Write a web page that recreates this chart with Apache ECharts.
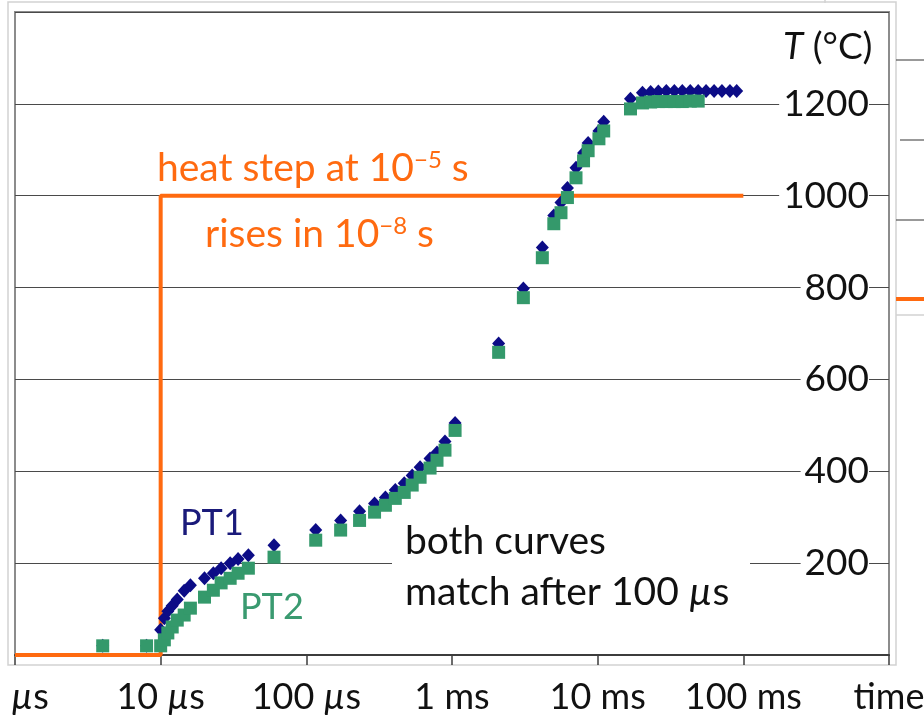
<!DOCTYPE html>
<html>
<head>
<meta charset="utf-8">
<script src="https://cdn.jsdelivr.net/npm/echarts@6/dist/echarts.min.js"></script>
<style>
html, body { margin: 0; padding: 0; background: #fff; }
#chart { width: 924px; height: 724px; }
</style>
</head>
<body>
<div id="chart"></div>
<script>
// sample times (s) shared by both thermocouples
const times = [4.0e-6, 8.0e-6, 1.0e-5, 1.06e-5, 1.12e-5, 1.2e-5, 1.3e-5, 1.45e-5, 1.6e-5, 2.0e-5,
  2.3e-5, 2.6e-5, 3.0e-5, 3.4e-5, 4.0e-5, 6.0e-5, 1.16e-4, 1.72e-4, 2.32e-4, 2.94e-4,
  3.49e-4, 4.08e-4, 4.70e-4, 5.33e-4, 6.04e-4, 7.07e-4, 7.89e-4, 8.95e-4, 1.05e-3, 2.09e-3,
  3.09e-3, 4.17e-3, 5.0e-3, 5.6e-3, 6.2e-3, 7.1e-3, 8.0e-3, 8.6e-3, 1.02e-2, 1.1e-2,
  1.68e-2, 2.03e-2, 2.31e-2, 2.61e-2, 2.96e-2, 3.36e-2, 3.81e-2, 4.32e-2, 4.90e-2, 5.55e-2,
  6.30e-2, 7.13e-2, 8.09e-2, 9.0e-2];
const pt1 = [20, 20, 55, 80, 95, 107, 121, 140, 152, 167,
  178, 189, 200, 209, 217, 239, 272, 293, 313, 330,
  343, 359, 374, 391, 409, 428, 441, 465, 505, 678,
  798, 887, 957, 985, 1017, 1061, 1093, 1115, 1141, 1161,
  1211, 1224, 1226, 1227, 1228, 1228, 1228, 1228, 1228, 1228,
  1228, 1228, 1228, 1228];
const pt2 = [20, 20, 20, 33, 48, 61, 76, 87, 102, 126,
  141, 157, 167, 178, 189, 213, 250, 272, 293, 311,
  326, 341, 354, 370, 387, 407, 424, 446, 489, 659,
  778, 865, 939, 963, 996, 1039, 1076, 1098, 1124, 1141,
  1189, 1202, 1204, 1205, 1205, 1205, 1205, 1206, 1206, null,
  null, null, null, null];
// heat step input
const stepTimes = [1e-6, 1e-5, 1e-5, 0.1];
const stepTemps = [0, 0, 1000, 1000];
// x tick labels, one per decade from 1 us to 1 s
const xTickNums = ['1', '10', '100', '1', '10', '100'];
const xTickUnits = ['us', 'us', 'us', 'ms', 'ms', 'ms'];
const xLastLabel = 'time';

const FONT = 'Lato';
const ORANGE = '#ff6a10';
const NAVY = '#0c0c86';
const GREEN = '#34996b';

const chart = echarts.init(document.getElementById('chart'));

const pairs = (ys) => times.map((t, i) => [t, ys[i]]).filter(p => p[1] != null);

const option = {
  animation: false,
  grid: {
    left: 15, top: 12, right: 35, bottom: 69,
    containLabel: false, outerBoundsMode: 'none',
    show: true, borderColor: '#8c8c8c', borderWidth: 2
  },
  xAxis: {
    type: 'log',
    logBase: 10,
    min: 1e-6,
    max: 1,
    axisLine: { show: true, lineStyle: { color: '#3c3c3c', width: 2 } },
    axisTick: { show: true, length: 10, lineStyle: { color: '#3c3c3c', width: 1.5 } },
    minorTick: { show: false },
    splitLine: { show: false },
    axisLabel: {
      margin: 24,
      showMinLabel: true,
      showMaxLabel: true,
      hideOverlap: false,
      color: '#111',
      fontFamily: FONT,
      fontSize: 36,
      formatter: function (v) {
        const i = Math.round(Math.log10(v)) + 6;
        if (i >= xTickNums.length) return xLastLabel;
        if (xTickUnits[i] === 'us') return xTickNums[i] + ' {mu|\u00b5}s';
        return xTickNums[i] + ' ' + xTickUnits[i];
      },
      rich: {
        mu: { fontStyle: 'italic', fontFamily: FONT, fontSize: 36, color: '#111' }
      }
    }
  },
  yAxis: {
    type: 'value',
    position: 'right',
    min: 0,
    max: 1400,
    interval: 200,
    axisLine: { show: false },
    axisTick: { show: false },
    splitLine: { lineStyle: { color: '#4a4a4a', width: 1.2 } },
    axisLabel: {
      inside: true,
      margin: 20,
      showMinLabel: false,
      showMaxLabel: false,
      color: '#111',
      fontFamily: FONT,
      fontSize: 37,
      backgroundColor: '#fff',
      padding: [0, 0, 0, 4],
      formatter: (v) => String(v)
    }
  },
  series: [
    {
      type: 'line',
      data: stepTimes.map((t, i) => [t, stepTemps[i]]),
      symbol: 'none',
      clip: false,
      lineStyle: { color: ORANGE, width: 4 },
      z: 3
    },
    {
      type: 'scatter',
      name: 'PT1',
      data: pairs(pt1),
      symbol: 'diamond',
      symbolSize: [13, 14],
      itemStyle: { color: NAVY, opacity: 1 },
      z: 4
    },
    {
      type: 'scatter',
      name: 'PT2',
      data: pairs(pt2),
      symbol: 'rect',
      symbolSize: 13,
      itemStyle: { color: GREEN, opacity: 1 },
      z: 5
    }
  ],
  graphic: [
    // outer light frame and bits of the neighbouring panel
    { type: 'rect', z: -1, shape: { x: 8, y: 2, width: 888, height: 663 }, style: { fill: 'none', stroke: '#d2d2d2', lineWidth: 1.5 } },
    { type: 'line', shape: { x1: 825, y1: 0, x2: 825, y2: 3 }, style: { stroke: '#d2d2d2', lineWidth: 1.5 } },
    { type: 'line', shape: { x1: 896, y1: 60, x2: 924, y2: 60 }, style: { stroke: '#555', lineWidth: 1.2 } },
    { type: 'line', shape: { x1: 900, y1: 140, x2: 924, y2: 140 }, style: { stroke: '#555', lineWidth: 1.2 } },
    { type: 'line', shape: { x1: 896, y1: 220, x2: 924, y2: 220 }, style: { stroke: '#555', lineWidth: 1.2 } },
    { type: 'line', shape: { x1: 896, y1: 299, x2: 924, y2: 299 }, style: { stroke: ORANGE, lineWidth: 4 } },
    { type: 'line', shape: { x1: 896, y1: 315, x2: 924, y2: 315 }, style: { stroke: '#d2d2d2', lineWidth: 1.5 } },
    // axis title
    {
      type: 'text', z: 50, x: 783, y: 47,
      style: {
        text: '{i|T} (\u00b0C)', fill: '#111', font: '37px ' + FONT, verticalAlign: 'middle',
        rich: { i: { fontStyle: 'italic', fontFamily: FONT, fontSize: 37, fill: '#111' } }
      }
    },
    // heat step notes
    {
      type: 'text', z: 50, x: 157, y: 168,
      style: {
        text: 'heat step at 10{sup|\u22125} s', fill: ORANGE, font: '39px ' + FONT, verticalAlign: 'middle',
        rich: { sup: { fontSize: 24, fontFamily: FONT, fill: ORANGE, verticalAlign: 'top', padding: [0, 0, 16, 0] } }
      }
    },
    {
      type: 'text', z: 50, x: 205, y: 234,
      style: {
        text: 'rises in 10{sup|\u22128} s', fill: ORANGE, font: '39px ' + FONT, verticalAlign: 'middle',
        rich: { sup: { fontSize: 24, fontFamily: FONT, fill: ORANGE, verticalAlign: 'top', padding: [0, 0, 16, 0] } }
      }
    },
    { type: 'text', z: 50, x: 180, y: 523, style: { text: 'PT1', fill: '#1a1a7a', font: '36px ' + FONT, verticalAlign: 'middle' } },
    { type: 'text', z: 50, x: 240, y: 607, style: { text: 'PT2', fill: '#3a9a70', font: '36px ' + FONT, verticalAlign: 'middle' } },
    // note box
    { type: 'rect', z: 40, shape: { x: 392, y: 516, width: 358, height: 100 }, style: { fill: '#fff' } },
    { type: 'text', z: 50, x: 405, y: 541, style: { text: 'both curves', fill: '#111', font: '39px ' + FONT, verticalAlign: 'middle' } },
    {
      type: 'text', z: 50, x: 405, y: 592,
      style: {
        text: 'match after 100 {mu|\u00b5}s', fill: '#111', font: '39px ' + FONT, verticalAlign: 'middle',
        rich: { mu: { fontStyle: 'italic', fontFamily: FONT, fontSize: 39, fill: '#111' } }
      }
    }
  ]
};

chart.setOption(option);
</script>
</body>
</html>
